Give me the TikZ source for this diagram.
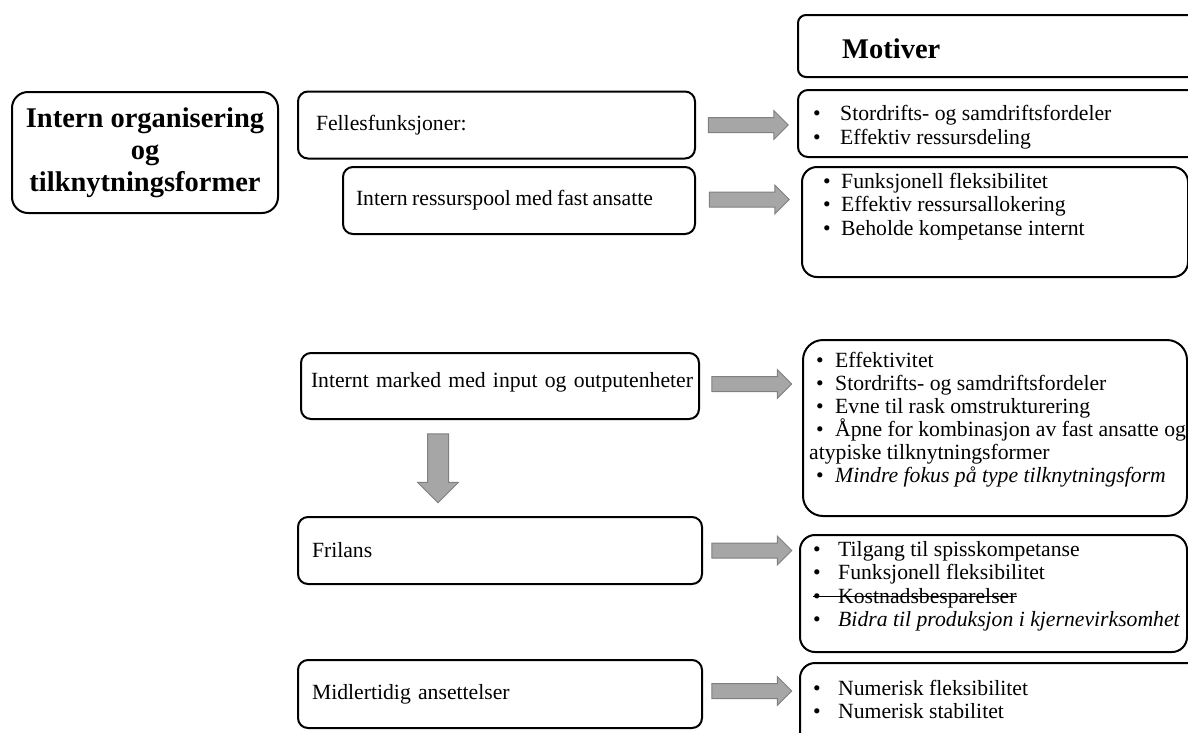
\documentclass[tikz,border=0pt]{standalone}
\usepackage{fontspec}
\setmainfont{Liberation Serif}
\usetikzlibrary{shapes.arrows, calc}
\definecolor{pilgraa}{RGB}{166,166,166}
\definecolor{pilkant}{RGB}{128,128,128}
\newcommand{\pkt}[2][24pt]{\makebox[#1][l]{\textbullet}#2}
\newsavebox{\strekboks}
\newcommand{\streket}[1]{\sbox{\strekboks}{#1}\rlap{\usebox{\strekboks}}\rule[0.27em]{\wd\strekboks}{1.2pt}}

\begin{document}
\begin{tikzpicture}[
    x=1pt, y=-1pt,
    every node/.style={font=\fontsize{21.7pt}{23.5pt}\selectfont},
    tittelboks/.style={rectangle, draw, line width=2pt, rounded corners=16pt, minimum width=266pt, minimum height=121pt, align=center, font=\fontsize{28.5pt}{32pt}\selectfont\bfseries},
    venstre/.style={rectangle, draw, line width=2pt, rounded corners=10pt, minimum height=67pt, align=left, inner ysep=0pt},
    motivboks/.style={rectangle, draw, line width=2pt, inner sep=0pt, rounded corners=15pt},
    liste/.style={anchor=base west, align=left, inner sep=0pt},
    blokkpil/.style={single arrow, draw=pilkant, fill=pilgraa, line width=1pt, inner sep=0pt, text height=7pt, text depth=7pt, minimum height=80pt, single arrow head extend=7pt, single arrow tip angle=90},
    nedpil/.style={blokkpil, text height=10pt, text depth=10pt, minimum height=69pt, single arrow head extend=10pt, rotate=-90}
]
\useasboundingbox (0,0) rectangle (1188,732);

% -------------------------
% Venstre kolonne
% -------------------------
    \node[tittelboks] (tittel) at (145,152.5) {Intern organisering\\og\\tilknytningsformer};

    \node[venstre, text width=361pt, inner xsep=18pt] (felles) at (496.5,125) {Fellesfunksjoner:};
    \node[venstre, text width=326pt, inner xsep=13pt] (pool) at (519,200.5) {\mbox{\spaceskip=0.2em Intern ressurspool med fast ansatte}};
    \node[venstre, text width=378pt, inner xsep=10pt, minimum height=66pt, text depth=12pt] (marked) at (500,386) {\mbox{Internt marked med input og outputenheter}};
    \node[venstre, text width=376pt, inner xsep=14pt] (frilans) at (500,550.5) {Frilans};
    \node[venstre, text width=376pt, inner xsep=14pt, minimum height=68pt] (midl) at (500,694) {Midlertidig ansettelser};

% -------------------------
% Motiver (listene festes i siste grunnlinje)
% -------------------------
    \node[motivboks, rounded corners=8pt, minimum width=442pt, minimum height=62pt] (motiver) at (1019,46) {};
    \node[anchor=base west, inner sep=0pt, font=\fontsize{28.5pt}{32pt}\selectfont\bfseries] (motivtekst) at (842,58) {Motiver};

    \node[motivboks, rounded corners=10pt, minimum width=442pt, minimum height=67pt] (mfelles) at (1019,123.5) {};
    \node[liste] (lfelles) at (813,144) {\pkt[27pt]{Stordrifts- og samdriftsfordeler}\\\pkt[27pt]{Effektiv ressursdeling}};

    \node[motivboks, minimum width=386pt, minimum height=110pt] (mpool) at (995,222) {};
    \node[liste] (lpool) at (823,235) {\pkt[18pt]{Funksjonell fleksibilitet}\\\pkt[18pt]{Effektiv ressursallokering}\\\pkt[18pt]{Beholde kompetanse internt}};

    \node[motivboks, rounded corners=20pt, minimum width=384pt, minimum height=176pt] (mmarked) at (995,428) {};
    \node[liste, font=\fontsize{21.7pt}{23pt}\selectfont] (lmarked) at (816,482) {\pkt[19pt]{Effektivitet}\\\pkt[19pt]{Stordrifts- og samdriftsfordeler}\\\pkt[19pt]{Evne til rask omstrukturering}\\\pkt[19pt]{Åpne for kombinasjon av fast ansatte og}\\\hspace*{-7pt}atypiske tilknytningsformer\\\pkt[19pt]{\textit{Mindre fokus på type tilknytningsform}}};

    \node[motivboks, minimum width=387pt, minimum height=117pt] (mfrilans) at (993.5,593.5) {};
    \node[liste] (lfrilans) at (813,626.5) {\pkt[25pt]{Tilgang til spisskompetanse}\\\pkt[25pt]{Funksjonell fleksibilitet}\\\streket{\makebox[25pt][l]{\textbullet}Kostnadsbesparelser}\\\pkt[25pt]{\textit{Bidra til produksjon i kjernevirksomhet}}};

    \node[motivboks, minimum width=440pt, minimum height=117pt] (mmidl) at (1020,721.5) {};
    \node[liste] (lmidl) at (813,718.5) {\pkt[25pt]{Numerisk fleksibilitet}\\\pkt[25pt]{Numerisk stabilitet}};

% -------------------------
% Piler
% -------------------------
    \node[blokkpil] (pil1) at ($(felles.east)!0.5!(mfelles.west |- felles.east) + (-2,0)$) {};
    \node[blokkpil] (pil2) at ($(pool.east)!0.5!(mpool.west |- pool.east) + (-3,-1)$) {};
    \node[blokkpil] (pil3) at ($(marked.east)!0.5!(mmarked.west |- marked.east) + (-3,-2)$) {};
    \node[blokkpil] (pil4) at ($(frilans.east)!0.5!(mfrilans.west |- frilans.east) + (-3,0)$) {};
    \node[blokkpil] (pil5) at ($(midl.east)!0.5!(mmidl.west |- midl.east) + (-3,-3)$) {};

% Pil ned fra internt marked til frilans
    \node[nedpil] (pilned) at ($(marked.south)!0.5!(frilans.north) + (-62,-5)$) {};
\end{tikzpicture}
\end{document}
